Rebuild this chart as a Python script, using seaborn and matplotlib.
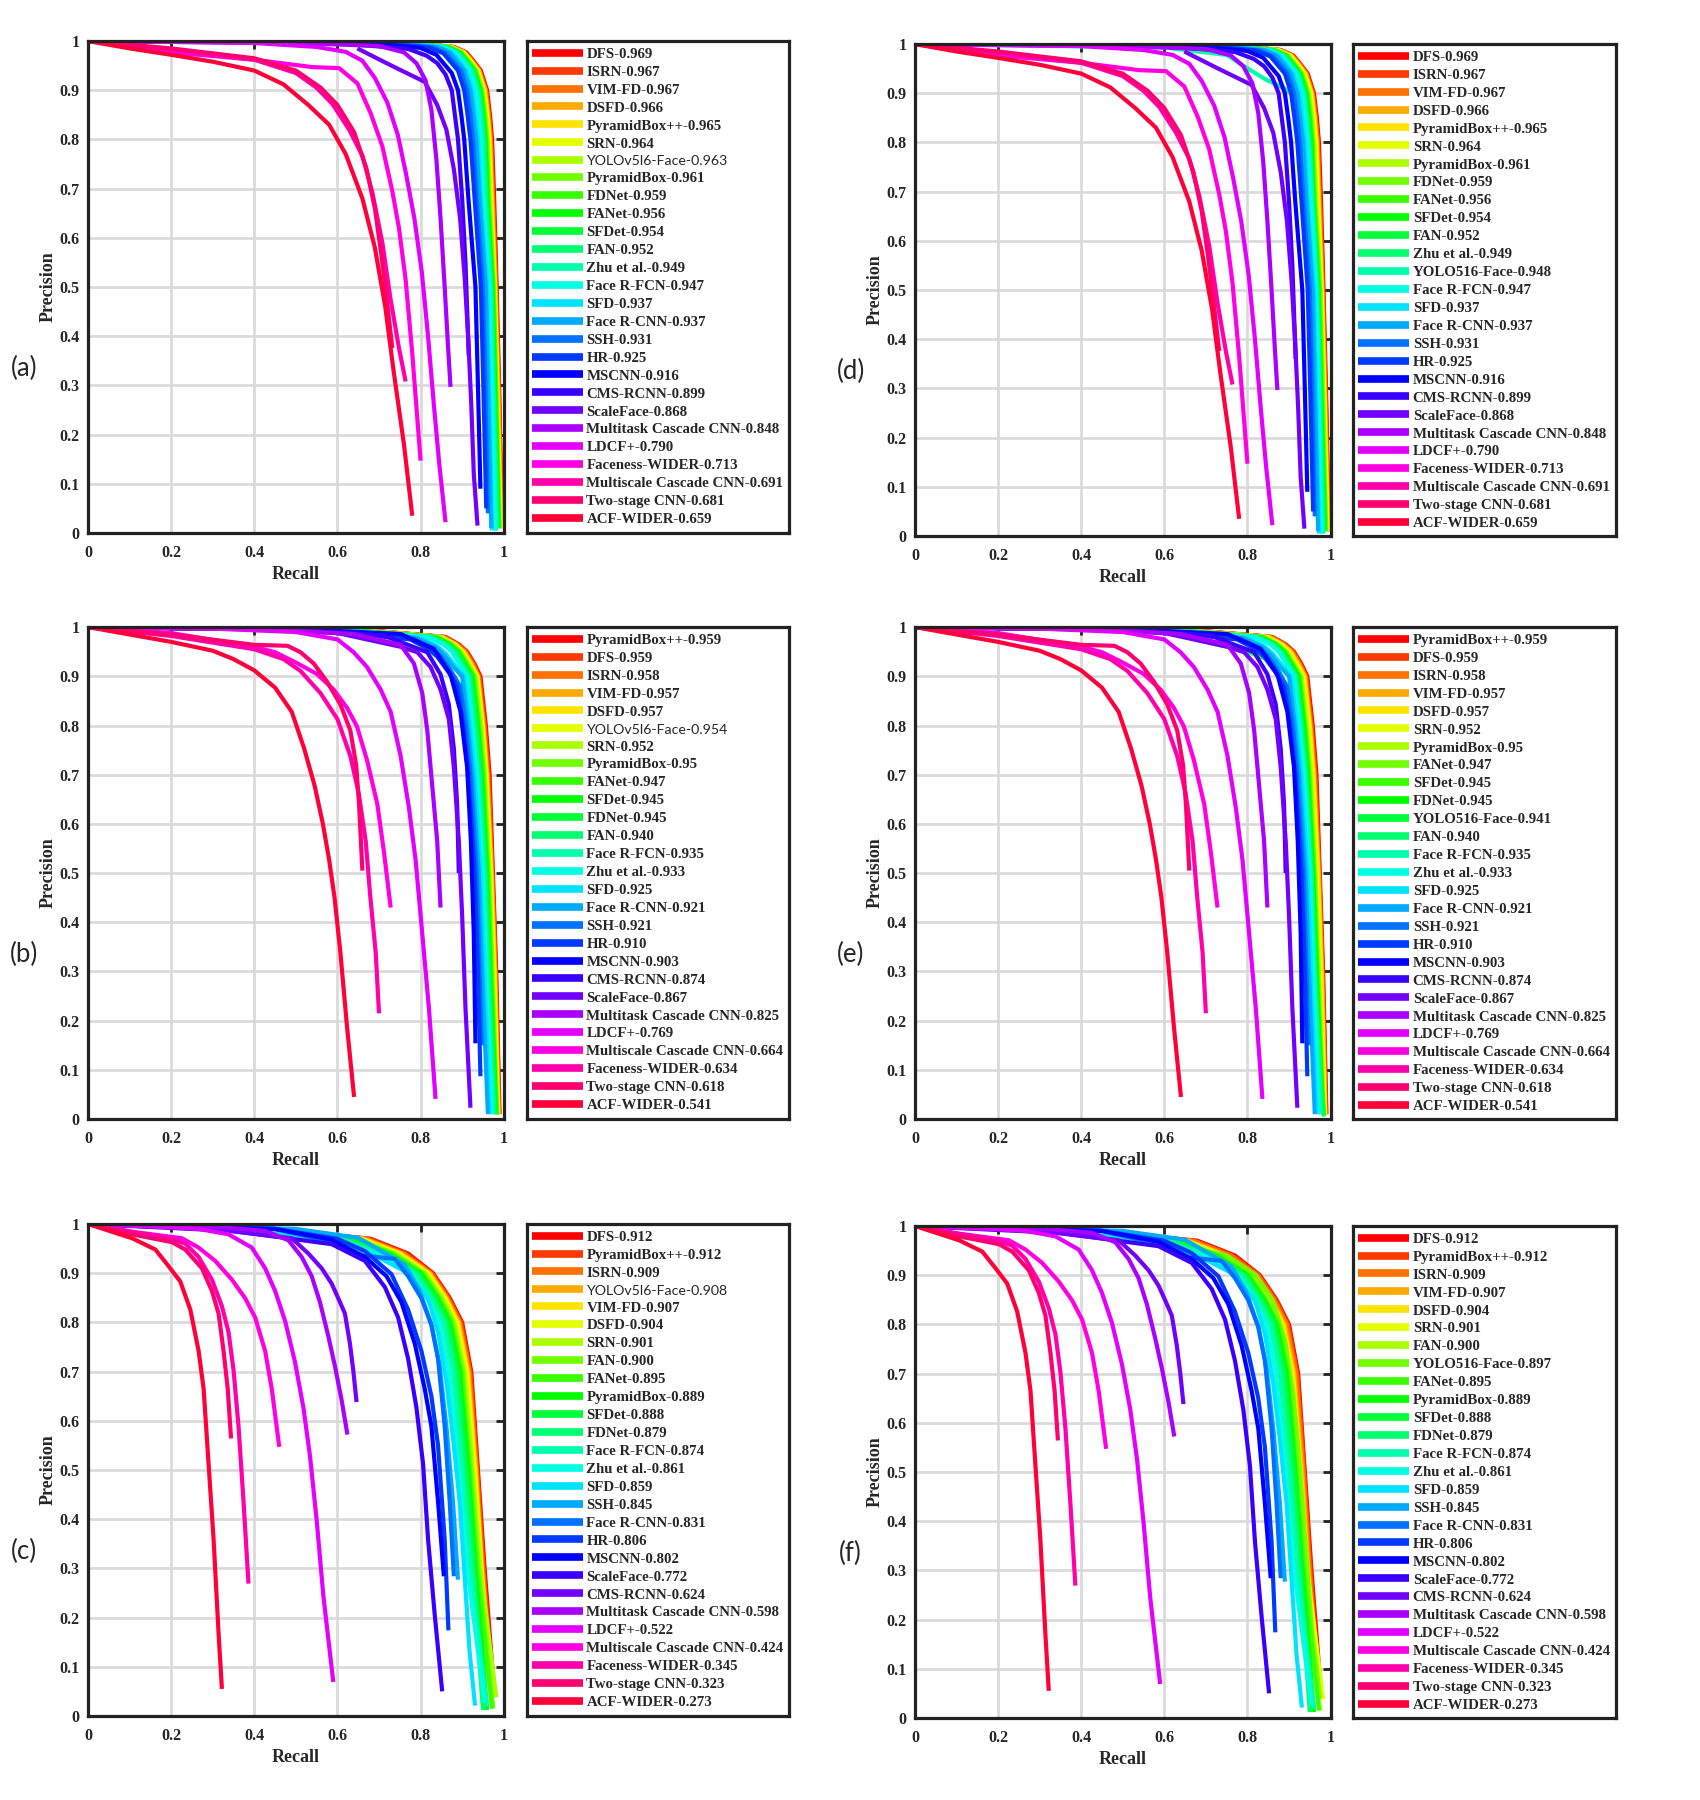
import colorsys
import matplotlib
matplotlib.use("Agg")
import matplotlib.pyplot as plt
from matplotlib.lines import Line2D
import pandas as pd
import seaborn as sns

# ---------------- PR curves: (recall, precision) ----------------
# Easy subset, panels (a) and (d)
easy_curves = {
    "DFS": [(0, 1), (0.76, 0.997), (0.88, 0.988), (0.91, 0.977), (0.925, 0.962), (0.945, 0.94), (0.96, 0.9), (0.967, 0.85), (0.972, 0.8), (0.977, 0.68), (0.983, 0.5), (0.989, 0.3), (0.996, 0.01)],
    "ISRN": [(0, 1), (0.758, 0.997), (0.878, 0.988), (0.908, 0.977), (0.923, 0.962), (0.943, 0.94), (0.958, 0.9), (0.965, 0.85), (0.97, 0.8), (0.975, 0.68), (0.982, 0.5), (0.988, 0.3), (0.995, 0.01)],
    "VIM-FD": [(0, 1), (0.757, 0.997), (0.877, 0.988), (0.907, 0.977), (0.922, 0.962), (0.942, 0.94), (0.957, 0.9), (0.964, 0.85), (0.969, 0.8), (0.974, 0.68), (0.981, 0.5), (0.987, 0.3), (0.995, 0.01)],
    "DSFD": [(0, 1), (0.755, 0.997), (0.875, 0.988), (0.905, 0.977), (0.92, 0.962), (0.94, 0.94), (0.955, 0.9), (0.962, 0.85), (0.967, 0.8), (0.972, 0.68), (0.98, 0.5), (0.986, 0.3), (0.994, 0.01)],
    "PyramidBox++": [(0, 1), (0.754, 0.997), (0.874, 0.988), (0.904, 0.977), (0.919, 0.962), (0.939, 0.94), (0.954, 0.9), (0.961, 0.85), (0.966, 0.8), (0.971, 0.68), (0.979, 0.5), (0.985, 0.3), (0.993, 0.01)],
    "SRN": [(0, 1), (0.752, 0.997), (0.872, 0.988), (0.902, 0.977), (0.917, 0.962), (0.937, 0.94), (0.952, 0.9), (0.959, 0.85), (0.964, 0.8), (0.969, 0.68), (0.978, 0.5), (0.984, 0.3), (0.992, 0.01)],
    "YOLOv5l6-Face": [(0, 1), (0.75, 0.997), (0.87, 0.988), (0.9, 0.977), (0.915, 0.962), (0.935, 0.94), (0.95, 0.9), (0.957, 0.85), (0.962, 0.8), (0.967, 0.68), (0.977, 0.5), (0.983, 0.3), (0.99, 0.01)],
    "PyramidBox": [(0, 1), (0.748, 0.997), (0.868, 0.988), (0.898, 0.977), (0.913, 0.962), (0.933, 0.94), (0.948, 0.9), (0.955, 0.85), (0.96, 0.8), (0.965, 0.68), (0.976, 0.5), (0.982, 0.3), (0.99, 0.01)],
    "FDNet": [(0, 1), (0.746, 0.997), (0.866, 0.988), (0.896, 0.977), (0.911, 0.962), (0.931, 0.94), (0.946, 0.9), (0.953, 0.85), (0.958, 0.8), (0.963, 0.68), (0.975, 0.5), (0.981, 0.3), (0.989, 0.01)],
    "FANet": [(0, 1), (0.744, 0.997), (0.864, 0.988), (0.894, 0.977), (0.909, 0.962), (0.929, 0.94), (0.944, 0.9), (0.951, 0.85), (0.956, 0.8), (0.961, 0.68), (0.973, 0.5), (0.979, 0.3), (0.988, 0.01)],
    "SFDet": [(0, 1), (0.742, 0.997), (0.862, 0.988), (0.892, 0.977), (0.907, 0.962), (0.927, 0.94), (0.942, 0.9), (0.949, 0.85), (0.954, 0.8), (0.959, 0.68), (0.971, 0.5), (0.977, 0.3), (0.986, 0.01)],
    "FAN": [(0, 1), (0.74, 0.997), (0.86, 0.988), (0.89, 0.977), (0.905, 0.962), (0.925, 0.94), (0.94, 0.9), (0.947, 0.85), (0.952, 0.8), (0.957, 0.68), (0.97, 0.5), (0.976, 0.3), (0.985, 0.01)],
    "Zhu et al.": [(0, 1), (0.736, 0.997), (0.856, 0.988), (0.886, 0.977), (0.901, 0.962), (0.921, 0.94), (0.936, 0.9), (0.943, 0.85), (0.948, 0.8), (0.954, 0.68), (0.968, 0.5), (0.974, 0.3), (0.982, 0.005)],
    "YOLO516-Face": [(0, 1), (0.6, 0.993), (0.75, 0.978), (0.79, 0.956), (0.84, 0.93), (0.888, 0.91), (0.915, 0.895), (0.935, 0.86), (0.95, 0.78), (0.962, 0.6), (0.97, 0.35), (0.978, 0.01)],
    "Face R-FCN": [(0, 1), (0.734, 0.997), (0.854, 0.988), (0.884, 0.977), (0.899, 0.962), (0.919, 0.94), (0.934, 0.9), (0.941, 0.85), (0.946, 0.8), (0.952, 0.68), (0.966, 0.5), (0.972, 0.3), (0.98, 0.005)],
    "SFD": [(0, 1), (0.72, 0.997), (0.845, 0.988), (0.875, 0.977), (0.89, 0.962), (0.91, 0.94), (0.925, 0.9), (0.932, 0.85), (0.938, 0.8), (0.945, 0.68), (0.96, 0.5), (0.965, 0.3), (0.972, 0.005)],
    "Face R-CNN": [(0, 1), (0.715, 0.997), (0.84, 0.988), (0.87, 0.977), (0.885, 0.962), (0.905, 0.94), (0.92, 0.9), (0.927, 0.85), (0.934, 0.8), (0.942, 0.68), (0.957, 0.5), (0.962, 0.3), (0.97, 0.01)],
    "SSH": [(0, 1), (0.7, 0.997), (0.83, 0.987), (0.862, 0.975), (0.877, 0.96), (0.897, 0.94), (0.912, 0.9), (0.92, 0.85), (0.926, 0.8), (0.935, 0.68), (0.95, 0.5), (0.956, 0.3), (0.962, 0.04)],
    "HR": [(0, 1), (0.69, 0.997), (0.82, 0.987), (0.855, 0.975), (0.87, 0.96), (0.89, 0.94), (0.905, 0.9), (0.913, 0.85), (0.92, 0.8), (0.93, 0.68), (0.945, 0.5), (0.951, 0.3), (0.958, 0.05)],
    "MSCNN": [(0, 1), (0.66, 0.997), (0.8, 0.986), (0.838, 0.972), (0.855, 0.955), (0.875, 0.935), (0.89, 0.9), (0.898, 0.85), (0.905, 0.8), (0.915, 0.68), (0.932, 0.5), (0.938, 0.3), (0.944, 0.09)],
    "CMS-RCNN": [(0, 1), (0.6, 0.996), (0.77, 0.984), (0.815, 0.97), (0.84, 0.955), (0.86, 0.932), (0.875, 0.9), (0.89, 0.8), (0.9, 0.68), (0.908, 0.55), (0.916, 0.36)],
    "ScaleFace": [(0.648, 0.985), (0.73, 0.95), (0.81, 0.917), (0.84, 0.87), (0.862, 0.82), (0.88, 0.74), (0.895, 0.64), (0.906, 0.52), (0.915, 0.39), (0.922, 0.26), (0.928, 0.12), (0.937, 0.015)],
    "Multitask Cascade CNN": [(0, 1), (0.5, 0.996), (0.7, 0.99), (0.76, 0.977), (0.79, 0.955), (0.812, 0.92), (0.826, 0.86), (0.838, 0.76), (0.848, 0.64), (0.858, 0.5), (0.866, 0.38), (0.872, 0.297)],
    "LDCF+": [(0, 1), (0.4, 0.996), (0.55, 0.988), (0.62, 0.978), (0.66, 0.96), (0.69, 0.925), (0.72, 0.875), (0.745, 0.81), (0.765, 0.73), (0.785, 0.64), (0.803, 0.53), (0.818, 0.4), (0.832, 0.26), (0.845, 0.14), (0.86, 0.022)],
    "Faceness-WIDER": [(0, 1), (0.2, 0.977), (0.4, 0.962), (0.54, 0.947), (0.604, 0.945), (0.648, 0.914), (0.68, 0.853), (0.708, 0.786), (0.732, 0.695), (0.748, 0.62), (0.764, 0.515), (0.78, 0.365), (0.8, 0.147)],
    "Multiscale Cascade CNN": [(0, 1), (0.2, 0.983), (0.4, 0.962), (0.5, 0.935), (0.55, 0.905), (0.588, 0.872), (0.628, 0.82), (0.66, 0.767), (0.684, 0.692), (0.708, 0.59), (0.728, 0.474), (0.748, 0.376), (0.764, 0.308)],
    "Two-stage CNN": [(0, 1), (0.2, 0.985), (0.4, 0.965), (0.5, 0.94), (0.56, 0.905), (0.6, 0.87), (0.64, 0.815), (0.67, 0.74), (0.69, 0.66), (0.705, 0.57), (0.718, 0.48), (0.732, 0.376)],
    "ACF-WIDER": [(0, 1), (0.1, 0.985), (0.2, 0.972), (0.3, 0.958), (0.4, 0.94), (0.47, 0.912), (0.53, 0.87), (0.58, 0.83), (0.62, 0.77), (0.66, 0.68), (0.69, 0.58), (0.715, 0.46), (0.735, 0.33), (0.76, 0.18), (0.78, 0.035)],
}

# Medium subset, panels (b) and (e)
medium_curves = {
    "PyramidBox++": [(0, 1), (0.65, 0.995), (0.86, 0.98), (0.892, 0.965), (0.912, 0.95), (0.93, 0.925), (0.944, 0.9), (0.957, 0.8), (0.966, 0.7), (0.974, 0.5), (0.982, 0.3), (0.99, 0.01)],
    "DFS": [(0, 1), (0.65, 0.995), (0.858, 0.98), (0.89, 0.965), (0.91, 0.95), (0.928, 0.925), (0.942, 0.9), (0.955, 0.8), (0.964, 0.7), (0.973, 0.5), (0.981, 0.3), (0.989, 0.01)],
    "ISRN": [(0, 1), (0.64, 0.995), (0.855, 0.98), (0.888, 0.965), (0.908, 0.95), (0.926, 0.925), (0.94, 0.9), (0.953, 0.8), (0.962, 0.7), (0.972, 0.5), (0.98, 0.3), (0.988, 0.01)],
    "VIM-FD": [(0, 1), (0.64, 0.995), (0.852, 0.98), (0.885, 0.965), (0.905, 0.95), (0.923, 0.925), (0.938, 0.9), (0.951, 0.8), (0.96, 0.7), (0.971, 0.5), (0.979, 0.3), (0.987, 0.01)],
    "DSFD": [(0, 1), (0.63, 0.995), (0.85, 0.98), (0.883, 0.965), (0.903, 0.95), (0.921, 0.925), (0.937, 0.9), (0.95, 0.8), (0.959, 0.7), (0.97, 0.5), (0.978, 0.3), (0.987, 0.01)],
    "YOLOv5l6-Face": [(0, 1), (0.63, 0.995), (0.848, 0.98), (0.88, 0.965), (0.9, 0.95), (0.918, 0.925), (0.935, 0.9), (0.948, 0.8), (0.957, 0.7), (0.968, 0.5), (0.976, 0.3), (0.986, 0.01)],
    "SRN": [(0, 1), (0.62, 0.995), (0.845, 0.98), (0.878, 0.965), (0.898, 0.95), (0.916, 0.925), (0.933, 0.9), (0.946, 0.8), (0.955, 0.7), (0.966, 0.5), (0.974, 0.3), (0.985, 0.01)],
    "PyramidBox": [(0, 1), (0.62, 0.995), (0.842, 0.98), (0.875, 0.965), (0.895, 0.95), (0.913, 0.925), (0.93, 0.9), (0.943, 0.8), (0.953, 0.7), (0.964, 0.5), (0.972, 0.3), (0.984, 0.01)],
    "FANet": [(0, 1), (0.61, 0.995), (0.838, 0.98), (0.872, 0.965), (0.892, 0.95), (0.91, 0.925), (0.927, 0.9), (0.94, 0.8), (0.95, 0.7), (0.962, 0.5), (0.97, 0.3), (0.983, 0.01)],
    "SFDet": [(0, 1), (0.61, 0.995), (0.835, 0.98), (0.87, 0.965), (0.89, 0.95), (0.908, 0.925), (0.925, 0.9), (0.938, 0.8), (0.948, 0.7), (0.96, 0.5), (0.968, 0.3), (0.982, 0.01)],
    "FDNet": [(0, 1), (0.6, 0.995), (0.832, 0.98), (0.868, 0.965), (0.888, 0.95), (0.906, 0.925), (0.923, 0.9), (0.936, 0.8), (0.946, 0.7), (0.958, 0.5), (0.966, 0.3), (0.981, 0.01)],
    "YOLO516-Face": [(0, 1), (0.5, 0.995), (0.6, 0.99), (0.8, 0.95), (0.864, 0.93), (0.9, 0.87), (0.924, 0.75), (0.94, 0.6), (0.956, 0.37), (0.972, 0.15), (0.984, 0.005)],
    "FAN": [(0, 1), (0.6, 0.995), (0.826, 0.98), (0.862, 0.965), (0.882, 0.95), (0.9, 0.925), (0.918, 0.9), (0.931, 0.8), (0.942, 0.7), (0.955, 0.5), (0.963, 0.3), (0.978, 0.01)],
    "Face R-FCN": [(0, 1), (0.58, 0.995), (0.82, 0.98), (0.858, 0.965), (0.878, 0.95), (0.896, 0.925), (0.914, 0.9), (0.927, 0.8), (0.938, 0.7), (0.952, 0.5), (0.96, 0.3), (0.975, 0.01)],
    "Zhu et al.": [(0, 1), (0.58, 0.995), (0.816, 0.98), (0.855, 0.965), (0.875, 0.95), (0.893, 0.925), (0.912, 0.9), (0.925, 0.8), (0.936, 0.7), (0.95, 0.5), (0.958, 0.3), (0.972, 0.01)],
    "SFD": [(0, 1), (0.56, 0.995), (0.8, 0.978), (0.842, 0.96), (0.862, 0.945), (0.885, 0.92), (0.905, 0.9), (0.919, 0.8), (0.93, 0.7), (0.945, 0.5), (0.953, 0.3), (0.966, 0.01)],
    "Face R-CNN": [(0, 1), (0.55, 0.995), (0.79, 0.978), (0.835, 0.96), (0.855, 0.945), (0.878, 0.92), (0.9, 0.9), (0.914, 0.8), (0.925, 0.7), (0.94, 0.5), (0.948, 0.3), (0.962, 0.01)],
    "SSH": [(0, 1), (0.55, 0.995), (0.785, 0.976), (0.83, 0.955), (0.85, 0.94), (0.874, 0.91), (0.895, 0.88), (0.909, 0.8), (0.92, 0.7), (0.935, 0.5), (0.942, 0.3), (0.947, 0.15)],
    "HR": [(0, 1), (0.54, 0.995), (0.775, 0.975), (0.82, 0.955), (0.84, 0.94), (0.866, 0.91), (0.888, 0.88), (0.903, 0.8), (0.915, 0.7), (0.93, 0.5), (0.938, 0.3), (0.944, 0.087)],
    "MSCNN": [(0, 1), (0.53, 0.995), (0.752, 0.986), (0.832, 0.956), (0.872, 0.904), (0.896, 0.828), (0.912, 0.715), (0.921, 0.565), (0.928, 0.377), (0.932, 0.154)],
    "CMS-RCNN": [(0, 1), (0.5, 0.995), (0.711, 0.983), (0.816, 0.949), (0.848, 0.904), (0.868, 0.843), (0.88, 0.753), (0.888, 0.64), (0.892, 0.5)],
    "ScaleFace": [(0, 1), (0.45, 0.995), (0.6, 0.988), (0.752, 0.96), (0.792, 0.949), (0.824, 0.919), (0.848, 0.873), (0.868, 0.813), (0.88, 0.715), (0.892, 0.565), (0.9, 0.414), (0.908, 0.226), (0.92, 0.023)],
    "Multitask Cascade CNN": [(0, 1), (0.4, 0.996), (0.639, 0.986), (0.752, 0.964), (0.784, 0.926), (0.804, 0.866), (0.816, 0.791), (0.828, 0.678), (0.84, 0.565), (0.848, 0.43)],
    "LDCF+": [(0, 1), (0.3, 0.997), (0.5, 0.99), (0.6, 0.975), (0.639, 0.949), (0.671, 0.919), (0.704, 0.873), (0.728, 0.828), (0.752, 0.738), (0.772, 0.633), (0.788, 0.527), (0.804, 0.377), (0.82, 0.226), (0.836, 0.041)],
    "Multiscale Cascade CNN": [(0, 1), (0.2, 0.988), (0.4, 0.96), (0.45, 0.949), (0.5, 0.928), (0.55, 0.905), (0.591, 0.873), (0.623, 0.836), (0.647, 0.798), (0.671, 0.73), (0.696, 0.64), (0.712, 0.542), (0.728, 0.43)],
    "Faceness-WIDER": [(0, 1), (0.2, 0.982), (0.4, 0.955), (0.47, 0.935), (0.511, 0.911), (0.559, 0.866), (0.6, 0.813), (0.631, 0.738), (0.651, 0.663), (0.668, 0.565), (0.679, 0.452), (0.692, 0.339), (0.7, 0.215)],
    "Two-stage CNN": [(0, 1), (0.2, 0.985), (0.4, 0.964), (0.48, 0.962), (0.511, 0.949), (0.543, 0.926), (0.575, 0.889), (0.607, 0.843), (0.631, 0.79), (0.645, 0.72), (0.652, 0.64), (0.66, 0.505)],
    "ACF-WIDER": [(0, 1), (0.1, 0.985), (0.2, 0.97), (0.3, 0.952), (0.35, 0.935), (0.4, 0.912), (0.45, 0.877), (0.49, 0.828), (0.52, 0.753), (0.545, 0.678), (0.565, 0.6), (0.58, 0.527), (0.593, 0.45), (0.607, 0.339), (0.623, 0.188), (0.64, 0.045)],
}

# Hard subset, panels (c) and (f)
hard_curves = {
    "DFS": [(0, 1), (0.43, 0.99), (0.68, 0.97), (0.77, 0.94), (0.83, 0.9), (0.87, 0.85), (0.9, 0.8), (0.922, 0.7), (0.938, 0.5), (0.954, 0.3), (0.978, 0.04)],
    "PyramidBox++": [(0, 1), (0.43, 0.99), (0.675, 0.97), (0.765, 0.94), (0.828, 0.9), (0.868, 0.85), (0.898, 0.8), (0.92, 0.7), (0.937, 0.5), (0.952, 0.3), (0.976, 0.04)],
    "ISRN": [(0, 1), (0.42, 0.99), (0.67, 0.97), (0.76, 0.94), (0.825, 0.9), (0.865, 0.85), (0.895, 0.8), (0.918, 0.7), (0.935, 0.5), (0.95, 0.3), (0.974, 0.04)],
    "YOLOv5l6-Face": [(0, 1), (0.42, 0.99), (0.665, 0.97), (0.755, 0.94), (0.822, 0.9), (0.862, 0.85), (0.892, 0.8), (0.915, 0.7), (0.933, 0.5), (0.948, 0.3), (0.972, 0.04)],
    "VIM-FD": [(0, 1), (0.41, 0.99), (0.66, 0.97), (0.75, 0.94), (0.82, 0.9), (0.86, 0.85), (0.89, 0.8), (0.913, 0.7), (0.932, 0.5), (0.947, 0.3), (0.972, 0.04)],
    "DSFD": [(0, 1), (0.41, 0.99), (0.655, 0.97), (0.745, 0.94), (0.816, 0.9), (0.856, 0.85), (0.886, 0.8), (0.91, 0.7), (0.929, 0.5), (0.945, 0.3), (0.97, 0.04)],
    "SRN": [(0, 1), (0.4, 0.99), (0.65, 0.97), (0.74, 0.94), (0.812, 0.9), (0.852, 0.85), (0.882, 0.8), (0.906, 0.7), (0.926, 0.5), (0.944, 0.3), (0.982, 0.038)],
    "FAN": [(0, 1), (0.4, 0.99), (0.64, 0.97), (0.735, 0.94), (0.808, 0.9), (0.848, 0.85), (0.878, 0.8), (0.902, 0.7), (0.922, 0.5), (0.94, 0.3), (0.975, 0.015)],
    "YOLO516-Face": [(0, 1), (0.5, 0.985), (0.666, 0.955), (0.75, 0.94), (0.82, 0.9), (0.86, 0.85), (0.89, 0.77), (0.91, 0.66), (0.925, 0.52), (0.94, 0.35), (0.955, 0.18), (0.975, 0.04)],
    "FANet": [(0, 1), (0.39, 0.99), (0.635, 0.97), (0.73, 0.94), (0.804, 0.9), (0.844, 0.85), (0.874, 0.8), (0.898, 0.7), (0.918, 0.5), (0.936, 0.3), (0.972, 0.015)],
    "PyramidBox": [(0, 1), (0.39, 0.99), (0.63, 0.97), (0.725, 0.94), (0.8, 0.9), (0.84, 0.85), (0.87, 0.8), (0.894, 0.7), (0.915, 0.5), (0.932, 0.3), (0.96, 0.012)],
    "SFDet": [(0, 1), (0.38, 0.99), (0.62, 0.97), (0.72, 0.94), (0.796, 0.9), (0.836, 0.85), (0.866, 0.8), (0.89, 0.7), (0.912, 0.5), (0.93, 0.3), (0.955, 0.012)],
    "FDNet": [(0, 1), (0.38, 0.99), (0.61, 0.97), (0.71, 0.94), (0.79, 0.9), (0.83, 0.85), (0.86, 0.8), (0.884, 0.7), (0.906, 0.5), (0.925, 0.3), (0.95, 0.012)],
    "Face R-FCN": [(0, 1), (0.37, 0.99), (0.6, 0.97), (0.7, 0.94), (0.785, 0.9), (0.825, 0.85), (0.855, 0.8), (0.878, 0.7), (0.9, 0.5), (0.92, 0.3), (0.96, 0.02)],
    "Zhu et al.": [(0, 1), (0.36, 0.99), (0.58, 0.97), (0.69, 0.94), (0.775, 0.9), (0.815, 0.85), (0.845, 0.8), (0.868, 0.7), (0.892, 0.5), (0.912, 0.3), (0.954, 0.027)],
    "SFD": [(0, 1), (0.35, 0.99), (0.56, 0.97), (0.68, 0.94), (0.76, 0.905), (0.818, 0.849), (0.842, 0.78), (0.862, 0.68), (0.878, 0.566), (0.894, 0.436), (0.906, 0.283), (0.918, 0.13), (0.931, 0.021)],
    "SSH": [(0, 1), (0.5, 0.99), (0.65, 0.972), (0.762, 0.917), (0.798, 0.864), (0.826, 0.795), (0.846, 0.711), (0.862, 0.589), (0.878, 0.436), (0.89, 0.277)],
    "Face R-CNN": [(0, 1), (0.45, 0.99), (0.586, 0.963), (0.65, 0.937), (0.738, 0.929), (0.77, 0.894), (0.802, 0.849), (0.826, 0.795), (0.842, 0.726), (0.858, 0.589), (0.87, 0.436), (0.88, 0.284)],
    "HR": [(0, 1), (0.45, 0.99), (0.6, 0.97), (0.666, 0.945), (0.73, 0.898), (0.77, 0.826), (0.802, 0.742), (0.826, 0.65), (0.842, 0.55), (0.858, 0.359), (0.867, 0.174)],
    "MSCNN": [(0, 1), (0.45, 0.99), (0.586, 0.968), (0.666, 0.933), (0.718, 0.894), (0.754, 0.841), (0.786, 0.757), (0.81, 0.665), (0.826, 0.589), (0.842, 0.436), (0.856, 0.284)],
    "ScaleFace": [(0, 1), (0.346, 0.986), (0.586, 0.959), (0.666, 0.925), (0.714, 0.872), (0.746, 0.81), (0.77, 0.726), (0.79, 0.627), (0.806, 0.512), (0.818, 0.359), (0.834, 0.206), (0.852, 0.05)],
    "CMS-RCNN": [(0, 1), (0.3, 0.99), (0.49, 0.971), (0.53, 0.94), (0.562, 0.91), (0.586, 0.879), (0.602, 0.849), (0.618, 0.818), (0.63, 0.757), (0.638, 0.703), (0.646, 0.638)],
    "Multitask Cascade CNN": [(0, 1), (0.3, 0.995), (0.426, 0.986), (0.482, 0.967), (0.514, 0.933), (0.538, 0.894), (0.558, 0.841), (0.578, 0.772), (0.594, 0.711), (0.61, 0.642), (0.624, 0.572)],
    "LDCF+": [(0, 1), (0.186, 0.994), (0.266, 0.99), (0.338, 0.979), (0.394, 0.952), (0.426, 0.91), (0.45, 0.864), (0.474, 0.803), (0.498, 0.719), (0.518, 0.627), (0.534, 0.528), (0.55, 0.398), (0.566, 0.245), (0.59, 0.069)],
    "Multiscale Cascade CNN": [(0, 1), (0.1, 0.985), (0.226, 0.971), (0.266, 0.952), (0.306, 0.925), (0.346, 0.887), (0.378, 0.849), (0.402, 0.81), (0.426, 0.742), (0.442, 0.665), (0.46, 0.547)],
    "Faceness-WIDER": [(0, 1), (0.1, 0.985), (0.2, 0.97), (0.234, 0.96), (0.266, 0.933), (0.298, 0.887), (0.322, 0.833), (0.338, 0.78), (0.35, 0.703), (0.362, 0.589), (0.374, 0.436), (0.386, 0.269)],
    "Two-stage CNN": [(0, 1), (0.106, 0.979), (0.202, 0.963), (0.234, 0.948), (0.274, 0.91), (0.298, 0.864), (0.314, 0.818), (0.326, 0.742), (0.336, 0.665), (0.344, 0.564)],
    "ACF-WIDER": [(0, 1), (0.106, 0.971), (0.162, 0.948), (0.194, 0.914), (0.222, 0.883), (0.246, 0.826), (0.266, 0.742), (0.278, 0.665), (0.29, 0.512), (0.302, 0.359), (0.314, 0.168), (0.322, 0.055)],
}

# ---------------- legend order and AP values per panel ----------------
methods_a = ["DFS", "ISRN", "VIM-FD", "DSFD", "PyramidBox++", "SRN", "YOLOv5l6-Face", "PyramidBox", "FDNet",
             "FANet", "SFDet", "FAN", "Zhu et al.", "Face R-FCN", "SFD", "Face R-CNN", "SSH", "HR", "MSCNN",
             "CMS-RCNN", "ScaleFace", "Multitask Cascade CNN", "LDCF+", "Faceness-WIDER",
             "Multiscale Cascade CNN", "Two-stage CNN", "ACF-WIDER"]
ap_a = ["0.969", "0.967", "0.967", "0.966", "0.965", "0.964", "0.963", "0.961", "0.959", "0.956", "0.954",
        "0.952", "0.949", "0.947", "0.937", "0.937", "0.931", "0.925", "0.916", "0.899", "0.868", "0.848",
        "0.790", "0.713", "0.691", "0.681", "0.659"]

methods_d = ["DFS", "ISRN", "VIM-FD", "DSFD", "PyramidBox++", "SRN", "PyramidBox", "FDNet", "FANet", "SFDet",
             "FAN", "Zhu et al.", "YOLO516-Face", "Face R-FCN", "SFD", "Face R-CNN", "SSH", "HR", "MSCNN",
             "CMS-RCNN", "ScaleFace", "Multitask Cascade CNN", "LDCF+", "Faceness-WIDER",
             "Multiscale Cascade CNN", "Two-stage CNN", "ACF-WIDER"]
ap_d = ["0.969", "0.967", "0.967", "0.966", "0.965", "0.964", "0.961", "0.959", "0.956", "0.954", "0.952",
        "0.949", "0.948", "0.947", "0.937", "0.937", "0.931", "0.925", "0.916", "0.899", "0.868", "0.848",
        "0.790", "0.713", "0.691", "0.681", "0.659"]

methods_b = ["PyramidBox++", "DFS", "ISRN", "VIM-FD", "DSFD", "YOLOv5l6-Face", "SRN", "PyramidBox", "FANet",
             "SFDet", "FDNet", "FAN", "Face R-FCN", "Zhu et al.", "SFD", "Face R-CNN", "SSH", "HR", "MSCNN",
             "CMS-RCNN", "ScaleFace", "Multitask Cascade CNN", "LDCF+", "Multiscale Cascade CNN",
             "Faceness-WIDER", "Two-stage CNN", "ACF-WIDER"]
ap_b = ["0.959", "0.959", "0.958", "0.957", "0.957", "0.954", "0.952", "0.95", "0.947", "0.945", "0.945",
        "0.940", "0.935", "0.933", "0.925", "0.921", "0.921", "0.910", "0.903", "0.874", "0.867", "0.825",
        "0.769", "0.664", "0.634", "0.618", "0.541"]

methods_e = ["PyramidBox++", "DFS", "ISRN", "VIM-FD", "DSFD", "SRN", "PyramidBox", "FANet", "SFDet", "FDNet",
             "YOLO516-Face", "FAN", "Face R-FCN", "Zhu et al.", "SFD", "Face R-CNN", "SSH", "HR", "MSCNN",
             "CMS-RCNN", "ScaleFace", "Multitask Cascade CNN", "LDCF+", "Multiscale Cascade CNN",
             "Faceness-WIDER", "Two-stage CNN", "ACF-WIDER"]
ap_e = ["0.959", "0.959", "0.958", "0.957", "0.957", "0.952", "0.95", "0.947", "0.945", "0.945", "0.941",
        "0.940", "0.935", "0.933", "0.925", "0.921", "0.921", "0.910", "0.903", "0.874", "0.867", "0.825",
        "0.769", "0.664", "0.634", "0.618", "0.541"]

methods_c = ["DFS", "PyramidBox++", "ISRN", "YOLOv5l6-Face", "VIM-FD", "DSFD", "SRN", "FAN", "FANet",
             "PyramidBox", "SFDet", "FDNet", "Face R-FCN", "Zhu et al.", "SFD", "SSH", "Face R-CNN", "HR",
             "MSCNN", "ScaleFace", "CMS-RCNN", "Multitask Cascade CNN", "LDCF+", "Multiscale Cascade CNN",
             "Faceness-WIDER", "Two-stage CNN", "ACF-WIDER"]
ap_c = ["0.912", "0.912", "0.909", "0.908", "0.907", "0.904", "0.901", "0.900", "0.895", "0.889", "0.888",
        "0.879", "0.874", "0.861", "0.859", "0.845", "0.831", "0.806", "0.802", "0.772", "0.624", "0.598",
        "0.522", "0.424", "0.345", "0.323", "0.273"]

methods_f = ["DFS", "PyramidBox++", "ISRN", "VIM-FD", "DSFD", "SRN", "FAN", "YOLO516-Face", "FANet",
             "PyramidBox", "SFDet", "FDNet", "Face R-FCN", "Zhu et al.", "SFD", "SSH", "Face R-CNN", "HR",
             "MSCNN", "ScaleFace", "CMS-RCNN", "Multitask Cascade CNN", "LDCF+", "Multiscale Cascade CNN",
             "Faceness-WIDER", "Two-stage CNN", "ACF-WIDER"]
ap_f = ["0.912", "0.912", "0.909", "0.907", "0.904", "0.901", "0.900", "0.897", "0.895", "0.889", "0.888",
        "0.879", "0.874", "0.861", "0.859", "0.845", "0.831", "0.806", "0.802", "0.772", "0.624", "0.598",
        "0.522", "0.424", "0.345", "0.323", "0.273"]

x_ticks = [0, 0.2, 0.4, 0.6, 0.8, 1]
x_ticklabels = ["0", "0.2", "0.4", "0.6", "0.8", "1"]
y_ticks = [0, 0.1, 0.2, 0.3, 0.4, 0.5, 0.6, 0.7, 0.8, 0.9, 1]
y_ticklabels = ["0", "0.1", "0.2", "0.3", "0.4", "0.5", "0.6", "0.7", "0.8", "0.9", "1"]

# ---------------- style ----------------
sns.set_style("white")
plt.rcParams["font.family"] = ["Liberation Serif", "DejaVu Serif"]
plt.rcParams["font.weight"] = "bold"

DARK = "#222222"
rank_colors = [colorsys.hsv_to_rgb(i / 27.0, 1.0, 1.0) for i in range(27)]


def to_frame(curves, methods):
    rows = []
    for m in methods:
        for r, p in curves[m]:
            rows.append({"method": m, "Recall": r, "Precision": p})
    return pd.DataFrame(rows)


def draw_panel(fig, ax_rect, leg_rect, curves, methods, aps, tag):
    ax = fig.add_axes(ax_rect)
    df = to_frame(curves, methods)
    sns.lineplot(data=df, x="Recall", y="Precision", hue="method", hue_order=methods,
                 palette=rank_colors, sort=False, estimator=None, linewidth=3.0,
                 solid_joinstyle="round", solid_capstyle="butt",
                 legend=False, ax=ax)
    ax.set_xlim(0, 1)
    ax.set_ylim(0, 1)
    ax.set_xticks(x_ticks)
    ax.set_xticklabels(x_ticklabels)
    ax.set_yticks(y_ticks)
    ax.set_yticklabels(y_ticklabels)
    ax.grid(True, color="#d9d9d9", linewidth=1.9)
    ax.set_axisbelow(True)
    ax.tick_params(direction="in", length=6, width=2.0, color=DARK, top=True, right=True,
                   labelsize=11.5, pad=6)
    ax.tick_params(axis="x", pad=8.5)
    for lab in ax.get_xticklabels() + ax.get_yticklabels():
        lab.set_fontweight("bold")
    for sp in ax.spines.values():
        sp.set_linewidth(2.3)
        sp.set_color(DARK)
    ax.set_xlabel("Recall", fontsize=13, fontweight="bold", labelpad=4)
    ax.set_ylabel("Precision", fontsize=13, fontweight="bold", labelpad=2)
    ax.text(-0.155, 0.335, tag, transform=ax.transAxes, ha="center", va="center",
            fontsize=18.5, fontweight="normal", family="Lato")

    lax = fig.add_axes(leg_rect)
    lax.set_xticks([])
    lax.set_yticks([])
    for sp in lax.spines.values():
        sp.set_linewidth(2.3)
        sp.set_color(DARK)
    handles = [Line2D([], [], color=rank_colors[i], linewidth=5.5, solid_capstyle="butt")
               for i in range(len(methods))]
    labels = [f"{m}-{a}" for m, a in zip(methods, aps)]
    leg = lax.legend(handles, labels, loc="upper left", bbox_to_anchor=(0.02, 0.987),
                     frameon=False, borderpad=0, borderaxespad=0, handlelength=3.4,
                     handletextpad=0.25, labelspacing=0.305,
                     prop={"family": "Liberation Serif", "weight": "bold", "size": 10.7})
    for t in leg.get_texts():
        if t.get_text().startswith("YOLOv5l6"):
            t.set_fontfamily("Lato")
            t.set_fontweight("normal")
            t.set_fontsize(10.2)
    return ax


fig = plt.figure(figsize=(17, 18), dpi=100)

h = 0.2733
col1_ax, col1_leg = 0.0518, 0.310
col2_ax, col2_leg = 0.5382, 0.796
w_ax, w_leg = 0.2445, 0.1543

draw_panel(fig, [col1_ax, 0.7039, w_ax, h], [col1_leg, 0.7039, w_leg, h], easy_curves, methods_a, ap_a, "(a)")
draw_panel(fig, [col2_ax, 0.7022, w_ax, h], [col2_leg, 0.7022, w_leg, h], easy_curves, methods_d, ap_d, "(d)")
draw_panel(fig, [col1_ax, 0.3783, w_ax, h], [col1_leg, 0.3783, w_leg, h], medium_curves, methods_b, ap_b, "(b)")
draw_panel(fig, [col2_ax, 0.3783, w_ax, h], [col2_leg, 0.3783, w_leg, h], medium_curves, methods_e, ap_e, "(e)")
draw_panel(fig, [col1_ax, 0.0467, w_ax, h], [col1_leg, 0.0467, w_leg, h], hard_curves, methods_c, ap_c, "(c)")
draw_panel(fig, [col2_ax, 0.0456, w_ax, h], [col2_leg, 0.0456, w_leg, h], hard_curves, methods_f, ap_f, "(f)")

fig.savefig("out.png", dpi=100, facecolor="white")
